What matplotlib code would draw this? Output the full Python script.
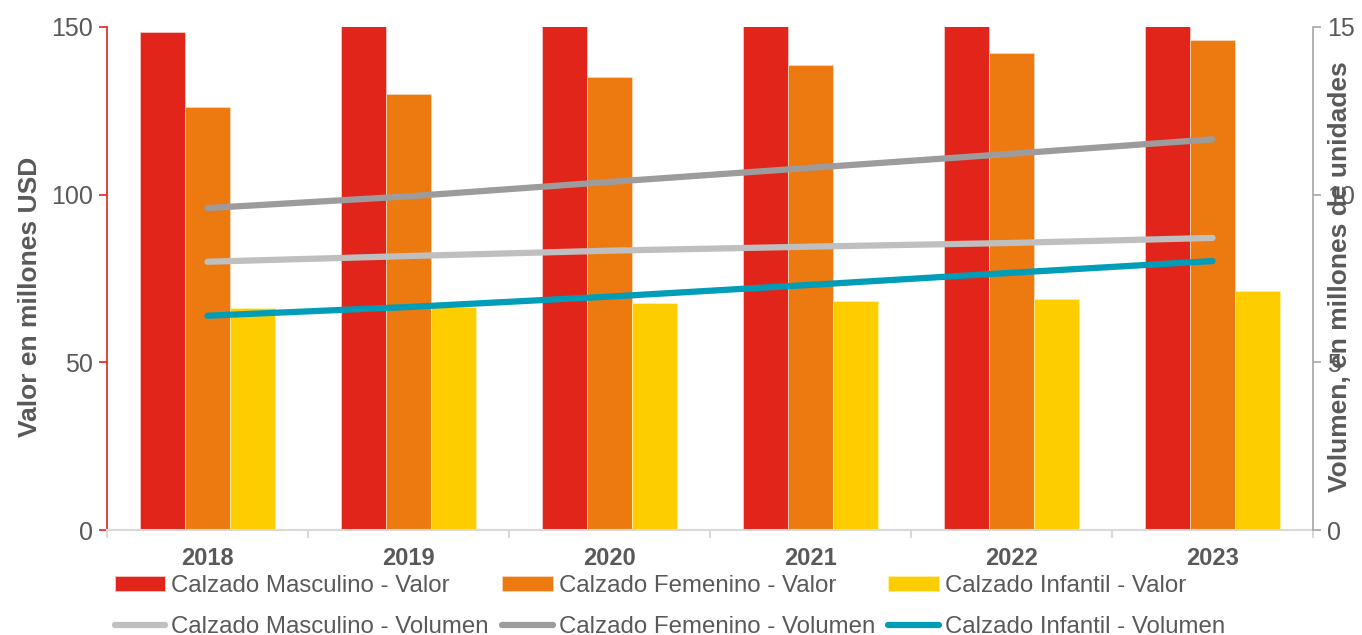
import numpy as np
import matplotlib.pyplot as plt

plt.rcParams['font.family'] = ['Liberation Sans', 'DejaVu Sans']

years = ['2018', '2019', '2020', '2021', '2022', '2023']
masc_valor = [148.5, 155, 158, 162, 166, 170]
fem_valor = [126.2, 130.0, 135.1, 138.7, 142.3, 146.1]
inf_valor = [66.2, 66.6, 67.7, 68.4, 68.9, 71.2]
masc_vol = [8.0, 8.17, 8.33, 8.45, 8.56, 8.71]
fem_vol = [9.6, 9.95, 10.38, 10.8, 11.22, 11.65]
inf_vol = [6.39, 6.65, 6.96, 7.31, 7.67, 8.02]

RED = '#E1251B'
ORANGE = '#EC7A10'
YELLOW = '#FDCD00'
LGRAY = '#C0BFBF'
DGRAY = '#9D9B9C'
TEAL = '#009DB8'
TXT = '#595959'

fig = plt.figure(figsize=(13.62, 6.35), dpi=100)
ax = fig.add_axes([107 / 1362, 1 - 530 / 635, 1206 / 1362, 503 / 635])
ax2 = ax.twinx()

x = np.arange(len(years))
w = 0.223
b1 = ax.bar(x - w, masc_valor, w, color=RED, edgecolor='#F4C7C3', linewidth=0.6, label='Calzado Masculino - Valor')
b2 = ax.bar(x, fem_valor, w, color=ORANGE, edgecolor='#F8D5B5', linewidth=0.6, label='Calzado Femenino - Valor')
b3 = ax.bar(x + w, inf_valor, w, color=YELLOW, edgecolor='#FFF0A0', linewidth=0.6, label='Calzado Infantil - Valor')

l1, = ax2.plot(x, masc_vol, color=LGRAY, lw=4.5, solid_capstyle='round', label='Calzado Masculino - Volumen')
l2, = ax2.plot(x, fem_vol, color=DGRAY, lw=4.5, solid_capstyle='round', label='Calzado Femenino - Volumen')
l3, = ax2.plot(x, inf_vol, color=TEAL, lw=4.5, solid_capstyle='round', label='Calzado Infantil - Volumen')

ax.set_xlim(-0.5, 5.5)
ax.set_ylim(0, 150)
ax2.set_ylim(0, 15)
ax.set_yticks([0, 50, 100, 150])
ax2.set_yticks([0, 5, 10, 15])

for a in (ax, ax2):
    a.spines['top'].set_visible(False)
ax.spines['right'].set_visible(False)
ax2.spines['left'].set_visible(False)
ax2.spines['bottom'].set_visible(False)
ax.spines['left'].set_color(RED)
ax.spines['left'].set_linewidth(1.2)
ax2.spines['right'].set_color('#A6A6A6')
ax2.spines['right'].set_linewidth(1.2)
ax.spines['bottom'].set_color('#D9D9D9')
ax.spines['bottom'].set_linewidth(1.5)

ax.tick_params(axis='y', colors=RED, labelcolor=TXT, labelsize=18, length=6, width=1.2, pad=4)
ax2.tick_params(axis='y', colors='#A6A6A6', labelcolor=TXT, labelsize=18, length=6, width=1.2, pad=4)

ax.set_xticks(x)
ax.set_xticklabels(years, fontsize=17, fontweight='bold', color=TXT)
ax.tick_params(axis='x', length=0, pad=12)
ax.set_xticks(np.arange(-0.5, 6, 1), minor=True)
ax.tick_params(axis='x', which='minor', length=6, width=1.5, color='#D9D9D9')

fig.text(30 / 1362, 1 - 297 / 635, 'Valor en millones USD', rotation=90, ha='center', va='center',
         fontsize=19, fontweight='bold', color=TXT)
fig.text(1340 / 1362, 1 - 277 / 635, 'Volumen, en millones de unidades', rotation=90, ha='center', va='center',
         fontsize=19, fontweight='bold', color=TXT)

handles = [b1, l1, b2, l2, b3, l3]
labels = [h.get_label() for h in handles]
leg = fig.legend(handles, labels, ncol=3, loc='upper left', bbox_to_anchor=(115 / 1362, 1 - 575 / 635),
                 frameon=False, fontsize=17.3, handlelength=2.1, handleheight=0.6, handletextpad=0.25,
                 columnspacing=0.55, labelspacing=0.78, borderpad=0, borderaxespad=0)
for t in leg.get_texts():
    t.set_color(TXT)

fig.savefig('out.png', dpi=100)
